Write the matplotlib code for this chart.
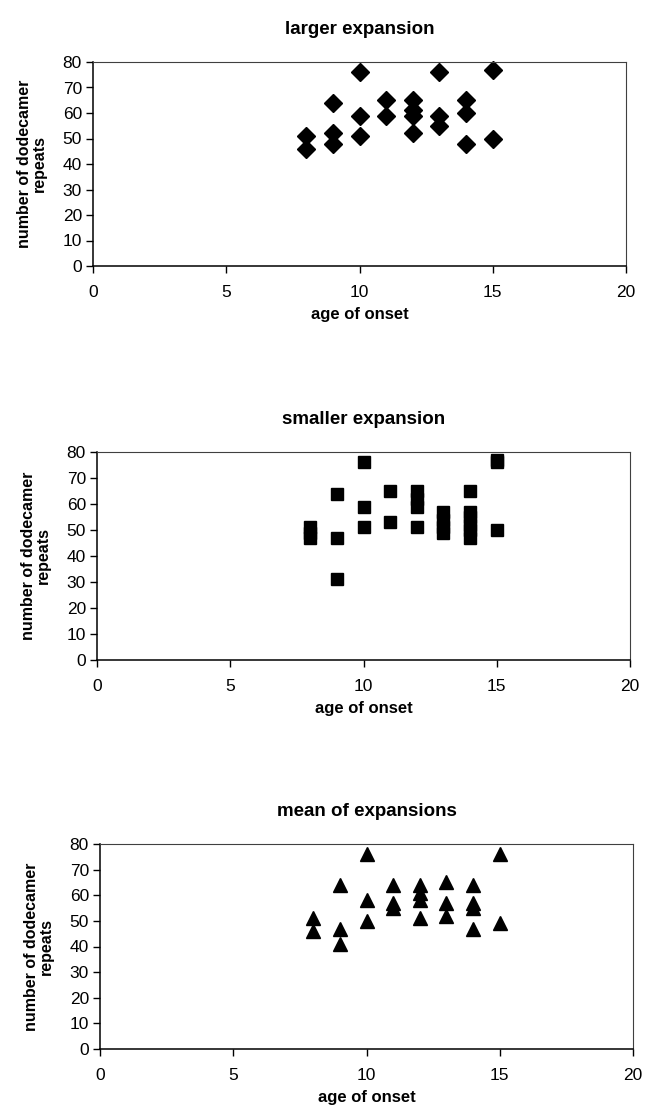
import numpy as np
import matplotlib
matplotlib.use("Agg")
import matplotlib.pyplot as plt

plt.rcParams['font.family'] = ['Liberation Sans', 'DejaVu Sans']

# age of onset -> repeat counts
larger_x = [8, 8, 9, 9, 9, 10, 10, 10, 11, 11, 12, 12, 12, 12, 13, 13, 13, 14, 14, 14, 15, 15]
larger_y = [51, 46, 64, 52, 48, 76, 59, 51, 65, 59, 65, 61, 59, 52, 76, 59, 55, 65, 60, 48, 77, 50]

smaller_x = [8, 8, 8, 9, 9, 9, 10, 10, 10, 11, 11, 12, 12, 12, 12,
             13, 13, 13, 13, 14, 14, 14, 14, 14, 14, 15, 15, 15]
smaller_y = [51, 49, 47, 64, 47, 31, 76, 59, 51, 65, 53, 65, 62, 59, 51,
             57, 54, 51, 49, 65, 57, 55, 52, 50, 47, 77, 76, 50]

mean_x = [8, 8, 9, 9, 9, 10, 10, 10, 11, 11, 11, 12, 12, 12, 12, 13, 13, 13, 14, 14, 14, 14, 15, 15]
mean_y = [51, 46, 64, 47, 41, 76, 58, 50, 64, 57, 55, 64, 61, 58, 51, 65, 57, 52, 64, 57, 55, 47, 76, 49]

titles = ["larger expansion", "smaller expansion", "mean of expansions"]
x_ticks = [0, 5, 10, 15, 20]
y_ticks = [0, 10, 20, 30, 40, 50, 60, 70, 80]

W, H = 645, 1112
fig = plt.figure(figsize=(W / 100, H / 100), dpi=100)

# panel boxes in pixels: left, right, top, bottom
boxes = [(93, 626, 62, 266), (97, 630, 452, 660), (100, 633, 844, 1049)]
series = [(larger_x, larger_y, 'D', 9.5), (smaller_x, smaller_y, 's', 8), (mean_x, mean_y, '^', 10)]

for (l, r, t, b), (xs, ys, mk, ms), title in zip(boxes, series, titles):
    ax = fig.add_axes([l / W, (H - b) / H, (r - l) / W, (b - t) / H])
    ax.plot(xs, ys, linestyle='none', marker=mk, markersize=ms, color='black', clip_on=False)
    ax.set_xlim(0, 20)
    ax.set_ylim(0, 80)
    ax.set_xticks(x_ticks)
    ax.set_yticks(y_ticks)
    ax.tick_params(direction='out', length=5, width=1, labelsize=12.5, colors='black')
    ax.tick_params(axis='x', pad=9)
    ax.tick_params(axis='y', pad=3)
    for s in ['left', 'bottom']:
        ax.spines[s].set_linewidth(1.1)
        ax.spines[s].set_color('black')
    for s in ['top', 'right']:
        ax.spines[s].set_linewidth(0.8)
        ax.spines[s].set_color('0.25')
    ax.set_title(title, fontsize=13.5, fontweight='bold', pad=20)
    ax.set_xlabel("age of onset", fontsize=12, fontweight='bold', labelpad=5)
    ax.set_ylabel("number of dodecamer\nrepeats", fontsize=11.5, fontweight='bold',
                  labelpad=11, linespacing=1.05)

fig.savefig("out.png", dpi=100)
